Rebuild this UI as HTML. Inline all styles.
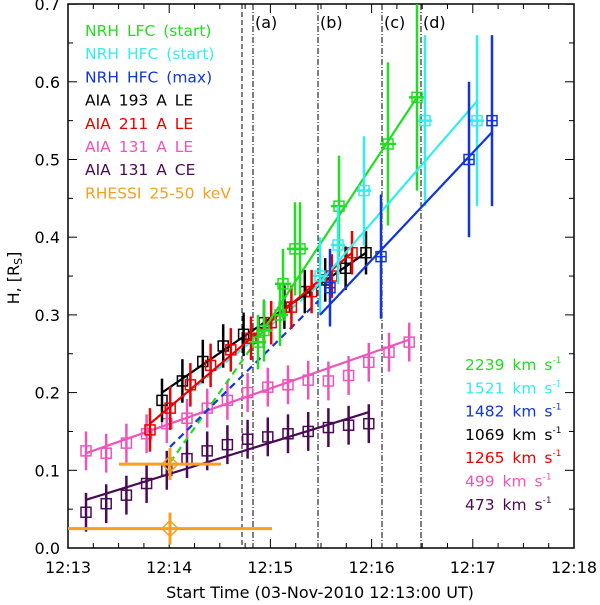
<!DOCTYPE html>
<html><head><meta charset="utf-8"><style>
html,body{margin:0;padding:0;background:#fff;}
svg{display:block;font-family:"DejaVu Sans","Liberation Sans",sans-serif;}
</style></head><body>
<svg id="s" width="600" height="605" viewBox="0 0 600 605" xmlns="http://www.w3.org/2000/svg"></svg>
<script>
const s=document.getElementById('s');let h='';
const Y=v=>548-777*v;
const G='#22dd22',C='#33eeee',B='#1035dd',K='#000',R='#ee0000',P='#ee55bb',U='#4a0a55',O='#f5a020';
h+=`<rect x="68" y="4" width="506" height="544" fill="none" stroke="#000" stroke-width="1.5"/>`;
for(let i=0;i<=20;i++){let x=68+i*25.3;let L=i%4==0?9:5;h+=`<line x1="${x}" y1="548" x2="${x}" y2="${548-L}" stroke="#000"/><line x1="${x}" y1="4" x2="${x}" y2="${4+L}" stroke="#000"/>`;}
for(let i=0;i<=14;i++){let y=Y(i*0.05);let L=i%2==0?9:5;h+=`<line x1="68" y1="${y}" x2="${68+L}" y2="${y}" stroke="#000"/><line x1="574" y1="${y}" x2="${574-L}" y2="${y}" stroke="#000"/>`;}
for(let i=0;i<=7;i++){h+=`<text x="60" y="${Y(i/10)+6}" font-size="16" text-anchor="end">${(i/10).toFixed(1)}</text>`;}
['12:13','12:14','12:15','12:16','12:17','12:18'].forEach((t,i)=>{h+=`<text x="${68+i*101.2}" y="573" font-size="16" text-anchor="middle">${t}</text>`;});
h+=`<text x="320" y="598" font-size="16" text-anchor="middle">Start Time (03-Nov-2010 12:13:00 UT)</text>`;
h+=`<text transform="translate(19,278) rotate(-90)" font-size="16" text-anchor="middle">H, [R<tspan font-size="11" dy="3">S</tspan><tspan dy="-3">]</tspan></text>`;
h+=`<line x1="242" y1="4" x2="242" y2="548" stroke="#000" stroke-dasharray="5,3"/>`;
[253,318,382,421].forEach(x=>h+=`<line x1="${x}" y1="4" x2="${x}" y2="548" stroke="#000" stroke-dasharray="6,2,1,2"/>`);
[['(a)',253],['(b)',318],['(c)',382],['(d)',421]].forEach(a=>h+=`<text x="${a[1]+2}" y="28" font-size="16">${a[0]}</text>`);
function line(c,x1,v1,x2,v2,d){h+=`<line x1="${x1}" y1="${Y(v1)}" x2="${x2}" y2="${Y(v2)}" stroke="${c}" stroke-width="2.2" ${d?'stroke-dasharray="7,5"':''}/>`;}
function pt(c,x,v,e,cross,hb){let y=Y(v);h+=`<line x1="${x}" y1="${y-e*777}" x2="${x}" y2="${y+e*777}" stroke="${c}" stroke-width="2.5"/>`;
 if(hb)h+=`<line x1="${x-hb}" y1="${y}" x2="${x+hb}" y2="${y}" stroke="${c}" stroke-width="2.5"/>`;
 h+=`<rect x="${x-5}" y="${y-5}" width="10" height="10" fill="none" stroke="${c}" stroke-width="1.5"/>`;
 if(cross)h+=`<line x1="${x-5}" y1="${y}" x2="${x+5}" y2="${y}" stroke="${c}" stroke-width="1.5"/>`;
 else h+=`<circle cx="${x}" cy="${y}" r="1" fill="${c}"/>`;}
const pu=[0.046,0.057,0.068,0.083,0.1,0.115,0.125,0.133,0.14,0.143,0.147,0.15,0.155,0.158,0.16];
pu.forEach((v,i)=>pt(U,86+i*20.2,v,0.025));line(U,86,0.062,369,0.175);
const pk=[0.125,0.122,0.135,0.147,0.16,0.167,0.18,0.19,0.2,0.207,0.21,0.216,0.215,0.222,0.239,0.252,0.265];
pk.forEach((v,i)=>pt(P,86+i*20.2,v,0.025));line(P,86,0.122,409,0.268);
line(G,170,0.11,258,0.27,1);line(C,170,0.18,312,0.33,1);line(B,170,0.13,320,0.32,1);
[0.19,0.215,0.24,0.26,0.275,0.29,0.31,0.33,0.345,0.36,0.38].forEach((v,i)=>pt(K,162+i*20.4,v,0.028));line(K,162,0.2,366,0.38);
[0.152,0.18,0.21,0.235,0.255,0.27,0.29,0.31,0.33,0.35,0.38].forEach((v,i)=>pt(R,150+i*20.2,v,0.028));line(R,150,0.16,352,0.38);
[[258,0.265,0.035],[264,0.28,0.04],[280,0.3,0.04],[283,0.34,0.045],[295,0.385,0.06],[300,0.385,0.06],[339,0.44,0.065],[388,0.52,0.105],[417,0.58,0.12]].forEach(p=>pt(G,p[0],p[1],p[2],1,8));
line(G,258,0.27,417,0.58);
[[320,0.35,0.05],[338,0.39,0.05],[364,0.46,0.07],[425,0.55,0.11],[477,0.55,0.11]].forEach(p=>pt(C,p[0],p[1],p[2],1,7));
line(C,312,0.33,477,0.575);
[[330,0.335,0.05],[381,0.375,0.08],[469,0.5,0.1],[492,0.55,0.11]].forEach(p=>pt(B,p[0],p[1],p[2],1,0));
line(B,320,0.3,492,0.535);
[[170,0.108,51],[170,0.025,102]].forEach(p=>{let y=Y(p[1]);h+=`<line x1="${p[0]-p[2]}" y1="${y}" x2="${p[0]+p[2]}" y2="${y}" stroke="${O}" stroke-width="3"/><line x1="${p[0]}" y1="${y-16}" x2="${p[0]}" y2="${y+16}" stroke="${O}" stroke-width="3"/><path d="M${p[0]-8} ${y}L${p[0]} ${y-8}L${p[0]+8} ${y}L${p[0]} ${y+8}Z" fill="none" stroke="${O}" stroke-width="1.5"/>`;});
[['NRH LFC (start)',G],['NRH HFC (start)',C],['NRH HFC (max)',B],['AIA 193 A LE',K],['AIA 211 A LE',R],['AIA 131 A LE',P],['AIA 131 A CE',U],['RHESSI 25-50 keV',O]].forEach((a,i)=>h+=`<text x="85" y="${36+i*23.2}" font-size="15.5" fill="${a[1]}" word-spacing="3">${a[0]}</text>`);
[['2239',G],['1521',C],['1482',B],['1069',K],['1265',R],['499',P],['473',U]].forEach((a,i)=>h+=`<text x="465" y="${370+i*23.3}" font-size="15.5" fill="${a[1]}" word-spacing="3">${a[0]} km s<tspan font-size="9" dy="-7">-1</tspan></text>`);
s.innerHTML=h;
</script>
</body></html>
